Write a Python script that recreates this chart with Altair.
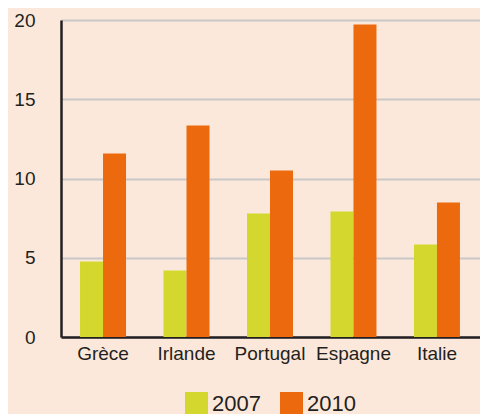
import altair as alt
import pandas as pd

countries = ["Grèce", "Irlande", "Portugal", "Espagne", "Italie"]
v2007 = [4.76, 4.2, 7.79, 7.92, 5.84]
v2010 = [11.58, 13.34, 10.5, 19.72, 8.49]
years = ["2007", "2010"]
colors = ["#d4d82e", "#ec690d"]

rows = []
for c, a, b in zip(countries, v2007, v2010):
    rows.append({"pays": c, "annee": "2007", "val": a})
    rows.append({"pays": c, "annee": "2010", "val": b})
df = pd.DataFrame(rows)

FONT = "Liberation Sans"
TXT = "#231f20"

chart = alt.Chart(df).mark_bar().encode(
    x=alt.X("pays:N", sort=countries,
            scale=alt.Scale(paddingInner=0.449, paddingOuter=0.234, align=0.487),
            axis=alt.Axis(title=None, labelAngle=0, ticks=False, labelFontSize=19,
                          labelColor=TXT, labelFont=FONT, labelPadding=7,
                          domainColor=TXT, domainWidth=2.5, grid=False)),
    xOffset=alt.XOffset("annee:N", scale=alt.Scale(paddingInner=0, paddingOuter=0)),
    y=alt.Y("val:Q", scale=alt.Scale(domain=[0, 20], nice=False),
            axis=alt.Axis(title=None, values=[0, 5, 10, 15, 20], ticks=False,
                          labelFontSize=19, labelColor=TXT, labelFont=FONT,
                          labelPadding=26, domainColor=TXT, domainWidth=2.5,
                          grid=True, gridColor="#c8c8c8", gridWidth=2)),
    color=alt.Color("annee:N", scale=alt.Scale(domain=years, range=colors),
                    legend=alt.Legend(title=None, orient="none", direction="horizontal",
                                      legendX=124, legendY=372, padding=0,
                                      symbolType="square", symbolSize=529,
                                      symbolStrokeWidth=0, labelFontSize=22,
                                      labelFont=FONT, labelColor=TXT,
                                      labelOffset=4, columnPadding=19)),
).properties(
    width=419, height=317, background="#fce8da",
    padding={"left": 5, "top": 3, "right": 0, "bottom": 0},
).configure_view(stroke=None)

chart.save("out.html", embed_options={"renderer": "svg", "actions": False})
